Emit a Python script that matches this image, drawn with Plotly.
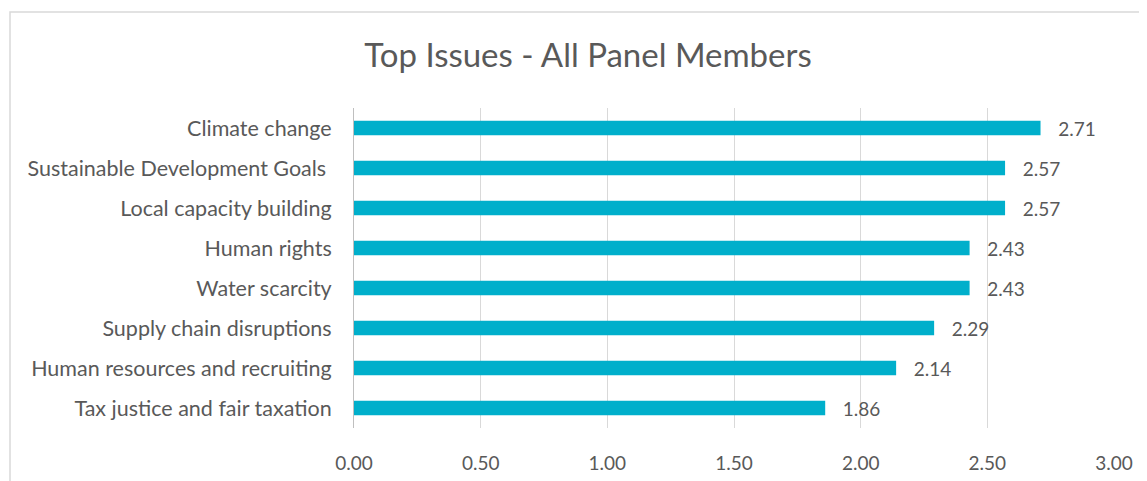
import plotly.graph_objects as go

categories = [
    "Climate change",
    "Sustainable Development Goals ",
    "Local capacity building",
    "Human rights",
    "Water scarcity",
    "Supply chain disruptions",
    "Human resources and recruiting",
    "Tax justice and fair taxation",
]
values = [2.71, 2.57, 2.57, 2.43, 2.43, 2.29, 2.14, 1.86]
x_ticks = [0, 0.5, 1.0, 1.5, 2.0, 2.5, 3.0]
x_tick_labels = ["0.00", "0.50", "1.00", "1.50", "2.00", "2.50", "3.00"]

font_family = "Lato, 'Open Sans', sans-serif"
text_color = "#595959"

W, H = 1139, 473  # page body has an 8px margin

fig = go.Figure(
    go.Bar(
        x=values,
        y=categories,
        orientation="h",
        marker=dict(color="#00AFCB", line=dict(width=0)),
        width=0.36,
        text=["   " + f"{v:.2f}" for v in values],
        textposition="outside",
        constraintext="none",
        textfont=dict(family=font_family, size=19, color=text_color),
        cliponaxis=False,
    )
)

fig.update_layout(
    width=W,
    height=H,
    margin=dict(l=346, r=33, t=100, b=53, autoexpand=False),
    paper_bgcolor="white",
    plot_bgcolor="white",
    showlegend=False,
    title=dict(
        text="Top Issues - All Panel Members",
        x=580 / W,
        xanchor="center",
        y=1 - 47 / H,
        yanchor="middle",
        font=dict(family=font_family, size=33, color=text_color),
        automargin=False,
    ),
    xaxis=dict(
        range=[0, 3.0],
        tickvals=x_ticks,
        ticktext=x_tick_labels,
        showgrid=True,
        gridcolor="#D9D9D9",
        gridwidth=1,
        zeroline=False,
        showline=False,
        ticks="outside",
        ticklen=18,
        tickcolor="rgba(0,0,0,0)",
        tickfont=dict(family=font_family, size=19, color=text_color),
        automargin=False,
    ),
    yaxis=dict(
        categoryorder="array",
        categoryarray=categories[::-1],
        showgrid=False,
        zeroline=False,
        showline=True,
        linecolor="#BFBFBF",
        linewidth=1,
        ticks="outside",
        ticklen=17,
        tickcolor="rgba(0,0,0,0)",
        tickfont=dict(family=font_family, size=21.5, color=text_color),
        automargin=False,
    ),
    bargap=0.6,
    shapes=[
        dict(
            type="rect",
            xref="paper",
            yref="paper",
            x0=(2 - 346) / 760,
            x1=1.2,
            y0=-0.4,
            y1=(420 - 4) / 320,
            line=dict(color="#D9D9D9", width=1.5),
            fillcolor="rgba(0,0,0,0)",
            layer="below",
        )
    ],
)

fig.write_html("out.html")
